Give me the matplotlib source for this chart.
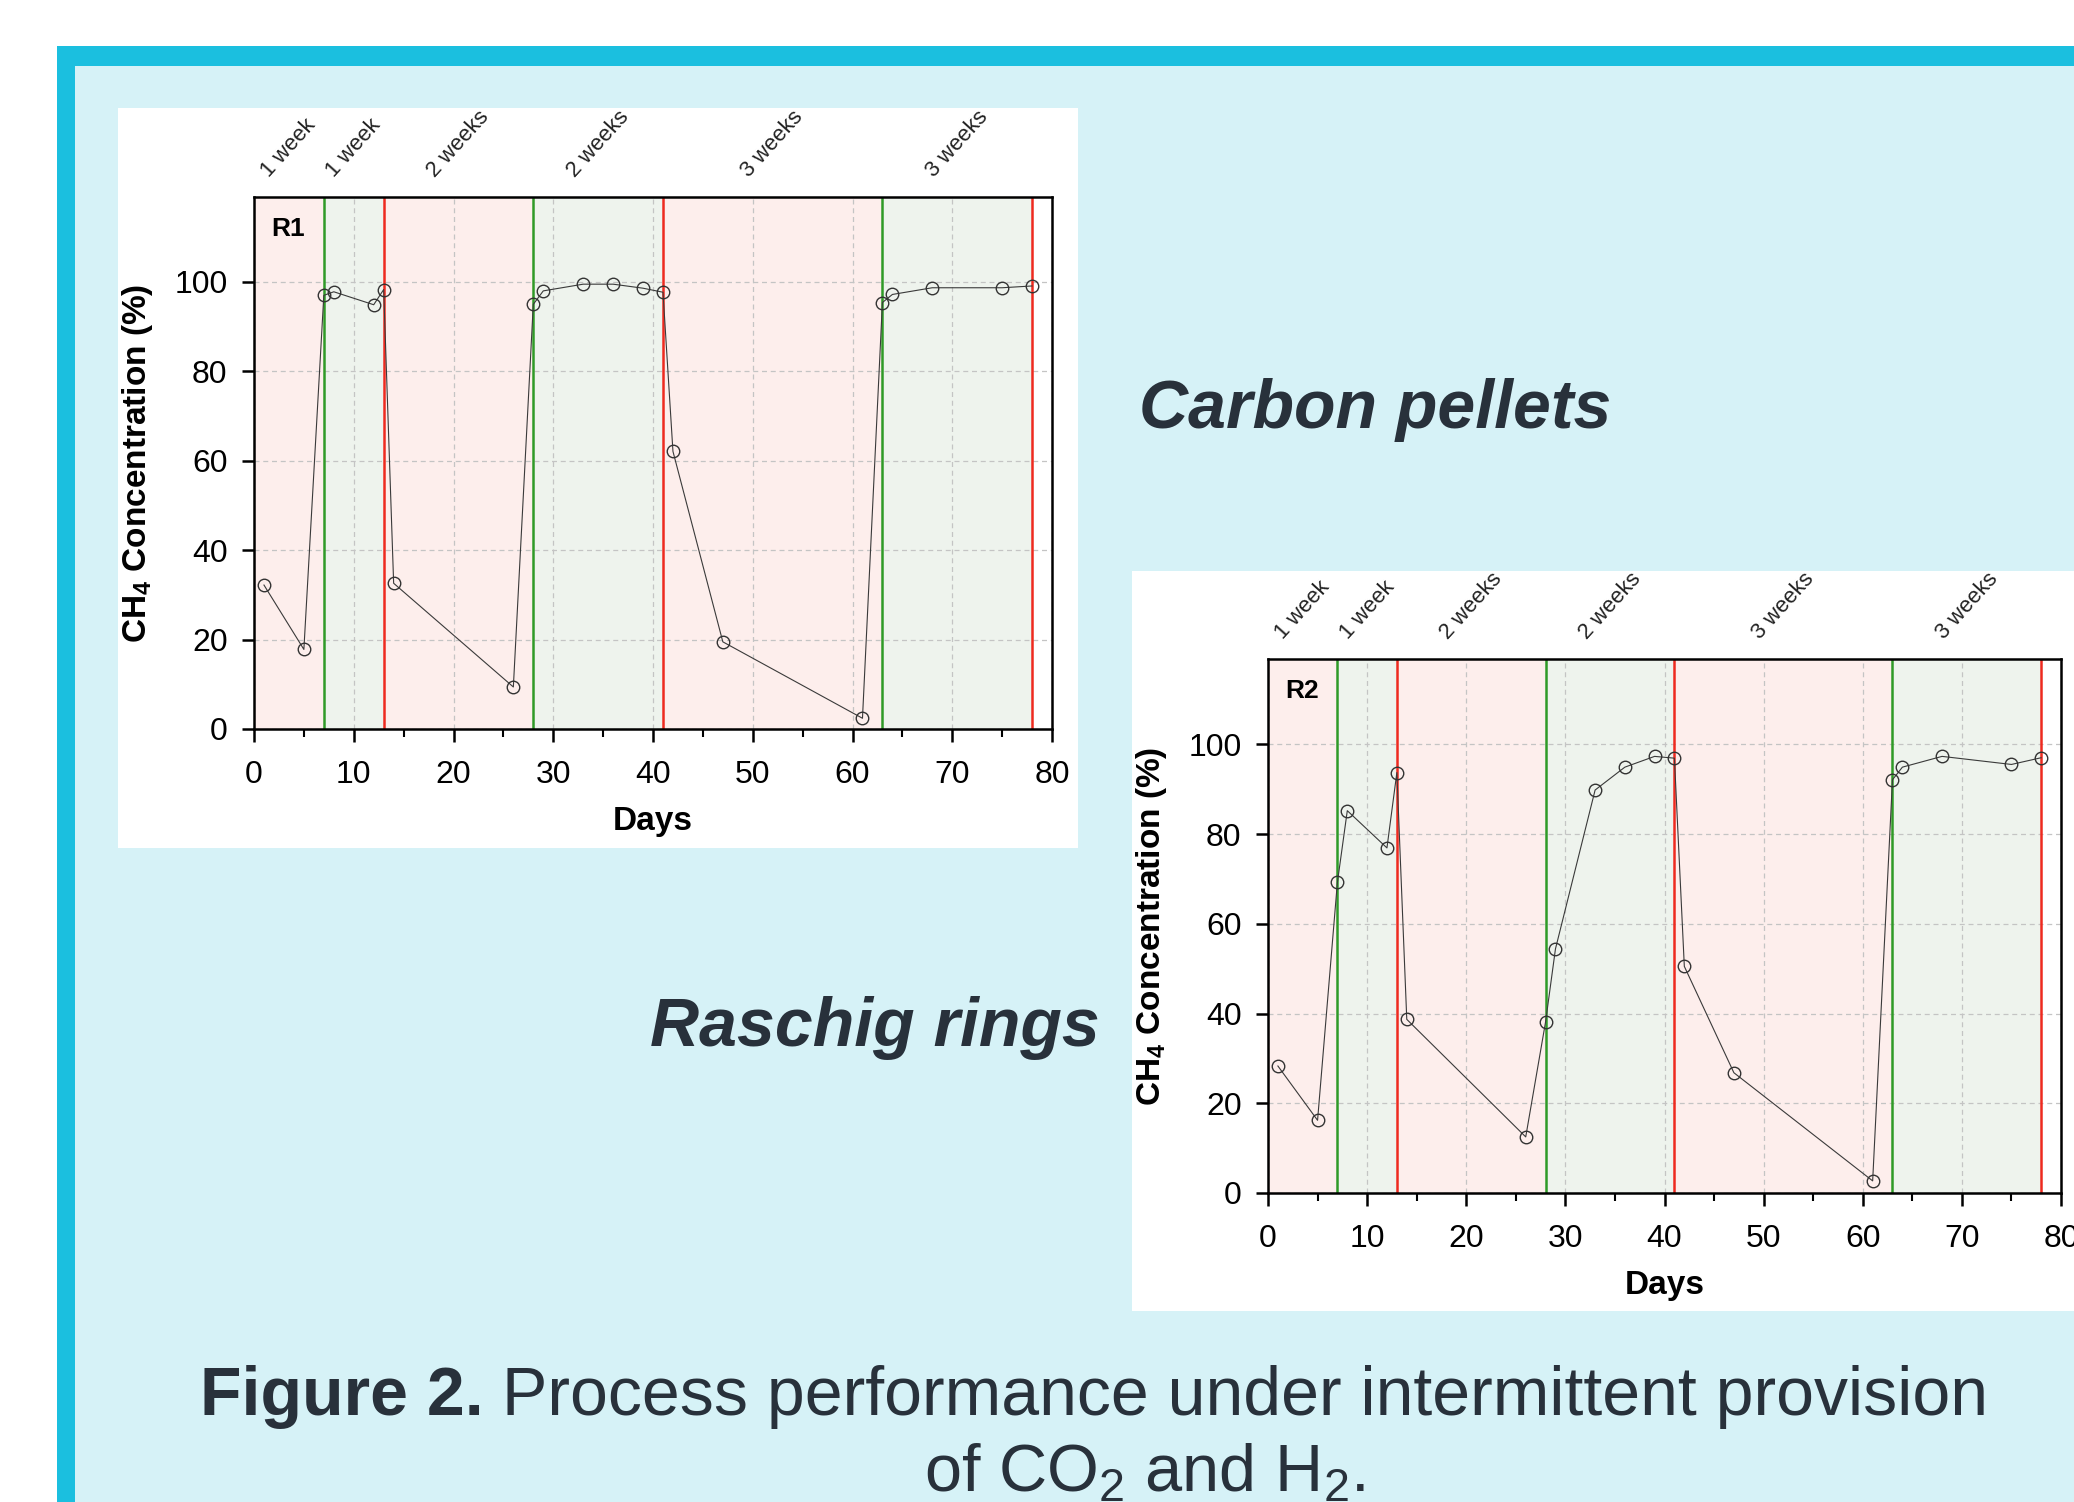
import matplotlib
matplotlib.use("Agg")
import matplotlib.pyplot as plt
from matplotlib.patches import Rectangle
from matplotlib.transforms import blended_transform_factory

plt.rcParams['font.family'] = ['Liberation Sans', 'DejaVu Sans']
plt.rcParams['mathtext.fontset'] = 'custom'
plt.rcParams['mathtext.rm'] = 'Liberation Sans'
plt.rcParams['mathtext.bf'] = 'Liberation Sans:bold'
plt.rcParams['mathtext.it'] = 'Liberation Sans:italic'

# ---- data ----
days = [1, 5, 7, 8, 12, 13, 14, 26, 28, 29, 33, 36, 39, 41, 42, 47, 61, 63, 64, 68, 75, 78]
r1_ch4 = [32.2, 17.8, 97.0, 97.8, 94.9, 98.3, 32.6, 9.4, 95.0, 98.0, 99.5, 99.5, 98.6, 97.7,
          62.1, 19.5, 2.4, 95.4, 97.2, 98.7, 98.7, 99.1]
r2_ch4 = [28.3, 16.2, 69.2, 85.2, 76.9, 93.7, 38.7, 12.5, 38.1, 54.4, 89.8, 94.9, 97.3, 96.9,
          50.5, 26.8, 2.7, 92.1, 94.9, 97.3, 95.5, 97.0]
on_days = [7, 28, 63]      # gas supply started (green lines)
off_days = [13, 41, 78]    # gas supply stopped (red lines)
phase_edges = [0, 7, 13, 28, 41, 63, 78]
phase_labels = ["1 week", "1 week", "2 weeks", "2 weeks", "3 weeks", "3 weeks"]

W, H = 2074, 1502
TEXT_C = "#28313b"
BORDER_C = "#1bbfdf"
BG_C = "#d6f2f7"


def px_box(x0, y0, x1, y1):
    """pixel box (top-left origin) -> figure fraction rect"""
    return [x0 / W, 1 - y1 / H, (x1 - x0) / W, (y1 - y0) / H]


def add_rect(fig, x0, y0, x1, y1, color):
    l, b, w, h = px_box(x0, y0, x1, y1)
    fig.add_artist(Rectangle((l, b), w, h, transform=fig.transFigure,
                             facecolor=color, edgecolor='none', zorder=-10))


def draw_panel(ax, values, tag):
    for i in range(len(phase_edges) - 1):
        col = "#fdeeec" if i % 2 == 0 else "#eef3ed"
        ax.axvspan(phase_edges[i], phase_edges[i + 1], color=col, lw=0, zorder=0.2)
    for d in on_days:
        ax.axvline(d, color="#2f9a27", lw=1.8, zorder=2)
    for d in off_days:
        ax.axvline(d, color="#ee2a1f", lw=1.8, zorder=2)

    ax.plot(days, values, color="#3a3a3a", lw=0.8, zorder=3)
    ax.plot(days, values, ls='none', marker='o', ms=9, mfc='none', mec='#333333',
            mew=1.0, zorder=4)

    ax.set_xlim(0, 80)
    ax.set_ylim(0, 119)
    ax.set_xticks(range(0, 81, 10))
    ax.set_xticks(range(5, 80, 10), minor=True)
    ax.set_yticks(range(0, 101, 20))
    ax.set_axisbelow(True)
    ax.grid(True, which='major', ls=(0, (4, 3)), color='#c4c4c4', lw=0.9)
    ax.tick_params(which='major', direction='out', length=9, width=1.8, labelsize=23,
                   colors='black')
    ax.tick_params(axis='x', which='major', pad=13)
    ax.tick_params(axis='y', which='major', pad=10)
    ax.tick_params(which='minor', direction='out', length=6, width=1.5)
    for s in ax.spines.values():
        s.set_linewidth(1.8)
        s.set_color('black')
        s.set_zorder(5)

    ax.set_xlabel("Days", fontsize=24, fontweight='bold', labelpad=12)
    ax.set_ylabel(r"CH$_\mathbf{4}$ Concentration (%)", fontsize=24, fontweight='bold',
                  labelpad=14)
    ax.text(0.022, 0.94, tag, transform=ax.transAxes, fontsize=19, fontweight='bold',
            ha='left', va='center', zorder=6)

    trans = blended_transform_factory(ax.transData, ax.transAxes)
    for i, lab in enumerate(phase_labels):
        mid = (phase_edges[i] + phase_edges[i + 1]) / 2
        ax.text(mid, 1.03, lab, transform=trans, rotation=48, ha='center', va='bottom',
                fontsize=16, color='#222222')


fig = plt.figure(figsize=(W / 100, H / 100), dpi=100)
fig.patch.set_facecolor('white')

# poster frame
add_rect(fig, 57, 46, W + 5, H + 5, BORDER_C)
add_rect(fig, 75, 66, W + 5, H + 5, BG_C)
# white image panels
add_rect(fig, 118, 108, 1078, 848, 'white')
add_rect(fig, 1132, 571, W + 5, 1311, 'white')

ax1 = fig.add_axes(px_box(254, 197, 1052, 729))
draw_panel(ax1, r1_ch4, "R1")
ax2 = fig.add_axes(px_box(1268, 659, 2061, 1193))
draw_panel(ax2, r2_ch4, "R2")

fig.text(1375 / W, 1 - 410 / H, "Carbon pellets", fontsize=49, fontweight='bold',
         style='italic', color=TEXT_C, ha='center', va='center')
fig.text(1100 / W, 1 - 1028 / H, "Raschig rings", fontsize=49, fontweight='bold',
         style='italic', color=TEXT_C, ha='right', va='center')

# caption, bold lead-in + regular text
y1 = 1 - 1415 / H
t_bold = fig.text(0, y1, "Figure 2.", fontsize=49, fontweight='bold', color=TEXT_C,
                  va='baseline')
t_rest = fig.text(0, y1, " Process performance under intermittent provision", fontsize=49,
                  color=TEXT_C, va='baseline')
r = fig.canvas.get_renderer()
w1 = t_bold.get_window_extent(r).width
w2 = t_rest.get_window_extent(r).width
x0 = 1094 - (w1 + w2) / 2
t_bold.set_x(x0 / W)
t_rest.set_x((x0 + w1) / W)
fig.text(1145 / W, 1 - 1492 / H, r"of CO$_2$ and H$_2$.", fontsize=48, color=TEXT_C,
         ha='center', va='baseline')

fig.savefig("out.png", dpi=100, facecolor=fig.get_facecolor())
